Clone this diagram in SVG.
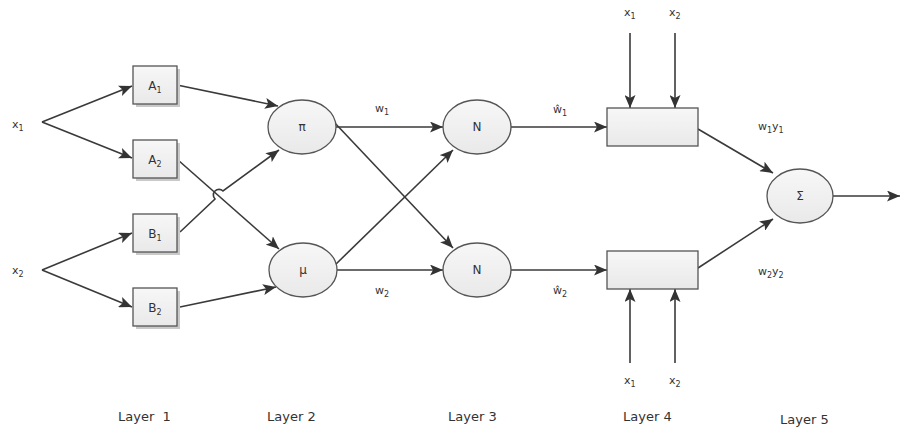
<svg xmlns="http://www.w3.org/2000/svg" width="917" height="430" viewBox="0 0 917 430">
<defs>
  <marker id="arr" markerUnits="userSpaceOnUse" markerWidth="14" markerHeight="11" refX="13" refY="5.5" orient="auto">
    <path d="M0,0 L13,5.5 L0,11 L3,5.5 z" fill="#333"/>
  </marker>
  <linearGradient id="g" x1="0" y1="0" x2="0" y2="1">
    <stop offset="0" stop-color="#f7f7f7"/>
    <stop offset="1" stop-color="#e9e9e9"/>
  </linearGradient>
</defs>
<style>
  .node { fill: url(#g); stroke: #555; stroke-width: 1.3; }
  .shadow { fill: #c9c9c9; }
  .edge { fill: none; stroke: #3a3a3a; stroke-width: 1.6; marker-end: url(#arr); }
  text { font-family: "DejaVu Sans", Verdana, sans-serif; fill: #333; font-size: 11px; }
  .c { text-anchor: middle; }
  .sub { font-size: 8px; }
  .big { font-size: 12px; }
  .layer { font-size: 13px; }
</style>
<rect width="917" height="430" fill="#fff"/>

<g id="connectors">
  <path class="edge" d="M42,122 L132,86"/>
  <path class="edge" d="M42,122 L132,158"/>
  <path class="edge" d="M42,270 L132,233"/>
  <path class="edge" d="M42,270 L132,307"/>
  <path class="edge" d="M177,85 L278,106"/>
  <path class="edge" d="M178,160 L279,249"/>
  <path class="edge" d="M180,232 L215,199 A5,5 0 0 1 223,191 L279,150"/>
  <path class="edge" d="M180,307 L276,287"/>
  <path class="edge" d="M336,127 L443,127"/>
  <path class="edge" d="M333,121 L453,248"/>
  <path class="edge" d="M335,265 L453,150"/>
  <path class="edge" d="M337,270 L443,270"/>
  <path class="edge" d="M511,127 L607,127"/>
  <path class="edge" d="M511,270 L607,270"/>
  <path class="edge" d="M630,33 L630,108"/>
  <path class="edge" d="M675,33 L675,108"/>
  <path class="edge" d="M630,363 L630,289"/>
  <path class="edge" d="M675,363 L675,289"/>
  <path class="edge" d="M698,129 L773,173"/>
  <path class="edge" d="M698,268 L773,219"/>
  <path class="edge" d="M833,196 L900,196"/>
</g>

<g id="A1"><rect class="shadow" x="136" y="69" width="44" height="38"/><rect class="node" x="133" y="66" width="44" height="38"/><text class="c big" x="155" y="90">A<tspan class="sub" dy="3">1</tspan></text></g>
<g id="A2"><rect class="shadow" x="136" y="143" width="44" height="38"/><rect class="node" x="133" y="140" width="44" height="38"/><text class="c big" x="155" y="164">A<tspan class="sub" dy="3">2</tspan></text></g>
<g id="B1"><rect class="shadow" x="136" y="217" width="44" height="38"/><rect class="node" x="133" y="214" width="44" height="38"/><text class="c big" x="155" y="238">B<tspan class="sub" dy="3">1</tspan></text></g>
<g id="B2"><rect class="shadow" x="136" y="291" width="44" height="38"/><rect class="node" x="133" y="288" width="44" height="38"/><text class="c big" x="155" y="312">B<tspan class="sub" dy="3">2</tspan></text></g>

<g id="pi"><ellipse class="node" cx="302" cy="127" rx="34" ry="27"/><text class="c big" x="302" y="131">π</text></g>
<g id="mu"><ellipse class="node" cx="303" cy="270" rx="34" ry="27"/><text class="c big" x="303" y="274">μ</text></g>
<g id="N1"><ellipse class="node" cx="477" cy="127" rx="34" ry="27"/><text class="c big" x="477" y="131">N</text></g>
<g id="N2"><ellipse class="node" cx="477" cy="270" rx="34" ry="27"/><text class="c big" x="477" y="274">N</text></g>
<g id="L4a"><rect class="node" x="607" y="108" width="91" height="38"/></g>
<g id="L4b"><rect class="node" x="607" y="251" width="91" height="38"/></g>
<g id="sigma"><ellipse class="node" cx="800" cy="196" rx="33" ry="27"/><text class="c big" x="800" y="200">Σ</text></g>

<g id="labels">
  <text x="12" y="128">x<tspan class="sub" dy="3">1</tspan></text>
  <text x="12" y="274">x<tspan class="sub" dy="3">2</tspan></text>
  <text x="375" y="112">w<tspan class="sub" dy="3">1</tspan></text>
  <text x="375" y="294">w<tspan class="sub" dy="3">2</tspan></text>
  <text x="553" y="113">ŵ<tspan class="sub" dy="3">1</tspan></text>
  <text x="553" y="294">ŵ<tspan class="sub" dy="3">2</tspan></text>
  <text x="624" y="16">x<tspan class="sub" dy="3">1</tspan></text>
  <text x="669" y="16">x<tspan class="sub" dy="3">2</tspan></text>
  <text x="624" y="384">x<tspan class="sub" dy="3">1</tspan></text>
  <text x="669" y="384">x<tspan class="sub" dy="3">2</tspan></text>
  <text x="758" y="130">w<tspan class="sub" dy="3">1</tspan><tspan dy="-3">y</tspan><tspan class="sub" dy="3">1</tspan></text>
  <text x="758" y="275">w<tspan class="sub" dy="3">2</tspan><tspan dy="-3">y</tspan><tspan class="sub" dy="3">2</tspan></text>
  <text class="layer" x="118" y="421">Layer&#160; 1</text>
  <text class="layer" x="267" y="421">Layer 2</text>
  <text class="layer" x="448" y="421">Layer 3</text>
  <text class="layer" x="623" y="421">Layer 4</text>
  <text class="layer" x="780" y="424">Layer 5</text>
</g>
</svg>
